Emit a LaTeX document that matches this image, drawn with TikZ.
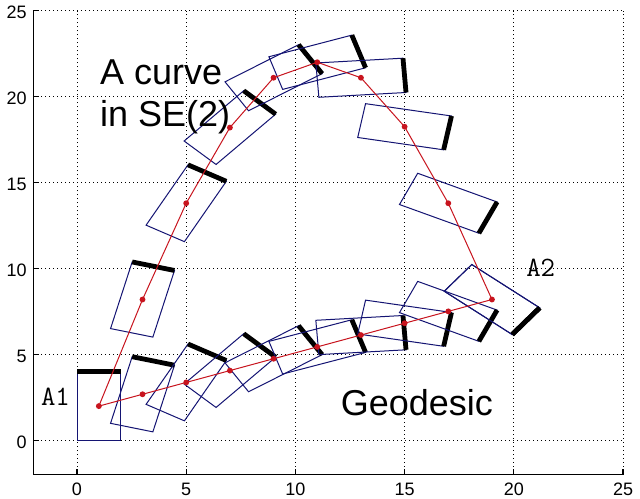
\documentclass[tikz,border=0pt]{standalone}
\usepackage{fontspec}
\setmainfont{Liberation Sans}
\definecolor{boxblue}{RGB}{20,20,115}
\definecolor{curvered}{RGB}{200,20,30}
\tikzset{
  gridline/.style={black, line width=0.7pt, dash pattern=on 0.75pt off 2.25pt},
  axisline/.style={black, line width=0.8pt},
  boxline/.style={boxblue, line width=0.75pt, line join=miter},
  thickedge/.style={black, line width=3.6pt},
  redline/.style={curvered, line width=0.75pt},
  ticklabel/.style={inner sep=0pt, font=\fontsize{13.5}{14}\selectfont},
  bigtext/.style={inner sep=0pt, anchor=base west, font=\fontsize{27}{31}\selectfont},
  posetext/.style={inner sep=0pt, anchor=base west, font=\ttfamily\fontsize{21}{22}\selectfont}
}
\newcommand{\pose}[4]{%
  \pgfmathsetmacro{\poseC}{cos(#4)}%
  \pgfmathsetmacro{\poseS}{sin(#4)}%
  \pgfmathsetmacro{\pAx}{#2-(\poseC)+2*(\poseS)}%
  \pgfmathsetmacro{\pAy}{#3-(\poseS)-2*(\poseC)}%
  \pgfmathsetmacro{\pBx}{#2+(\poseC)+2*(\poseS)}%
  \pgfmathsetmacro{\pBy}{#3+(\poseS)-2*(\poseC)}%
  \pgfmathsetmacro{\pCx}{#2+(\poseC)-2*(\poseS)}%
  \pgfmathsetmacro{\pCy}{#3+(\poseS)+2*(\poseC)}%
  \pgfmathsetmacro{\pDx}{#2-(\poseC)-2*(\poseS)}%
  \pgfmathsetmacro{\pDy}{#3-(\poseS)+2*(\poseC)}%
  \coordinate (#1) at (#2,#3);
  \draw[boxline] (\pAx,\pAy) -- (\pBx,\pBy) -- (\pCx,\pCy) -- (\pDx,\pDy) -- cycle;
  \draw[thickedge] (\pDx,\pDy) -- (\pCx,\pCy);
}
\begin{document}
\begin{tikzpicture}[x=16.3875pt,y=12.9pt]
\useasboundingbox[fill=white] (-3.5256,-3.3895) rectangle (25.778,25.622);
% grid
\foreach \v in {0,5,...,25}{
  \draw[gridline] (\v,-2) -- (\v,25);
  \draw[gridline] (-2,\v) -- (25,\v);
}
% axes
\coordinate (o) at (-2,-2);
\coordinate (xe) at (25,-2);
\coordinate (ye) at (-2,25);
\draw[axisline] (ye) -- (o) -- (xe);
\foreach \v in {0,5,...,25}{
  \draw[axisline] (\v,-2) -- (\v,-1.65);
  \node[ticklabel, anchor=north] (xt\v) at (\v,-2.45) {\v};
  \draw[axisline] (-2,\v) -- (-1.725,\v);
  \node[ticklabel, anchor=east] (yt\v) at (-2.29,\v-0.12) {\v};
}
% curve in SE(2)
\pose{c0}{1}{2}{0}
\pose{c1}{3}{8.2}{-129/9}
\pose{c2}{5}{13.8}{-2*129/9}
\pose{c3}{7}{18.2}{-3*129/9}
\pose{c4}{9}{21.1}{-4*129/9}
\pose{c5}{11}{22}{-5*129/9}
\pose{c6}{13}{21.1}{-6*129/9}
\pose{c7}{15}{18.25}{-7*129/9}
\pose{c8}{17}{13.8}{-8*129/9}
\pose{c9}{19}{8.2}{-129}
% geodesic
\foreach \k in {0,...,9}{
  \pgfmathsetmacro{\gx}{1+2*\k}
  \pgfmathsetmacro{\gy}{2+\k*6.2/9}
  \pgfmathsetmacro{\gt}{-\k*129/9}
  \pose{g\k}{\gx}{\gy}{\gt}
}
% red paths
\draw[redline] (c0) -- (c1) -- (c2) -- (c3) -- (c4) -- (c5) -- (c6) -- (c7) -- (c8) -- (c9);
\draw[redline] (g0) -- (g1) -- (g2) -- (g3) -- (g4) -- (g5) -- (g6) -- (g7) -- (g8) -- (g9);
\foreach \n in {c0,c1,c2,c3,c4,c5,c6,c7,c8,c9,g1,g2,g3,g4,g5,g6,g7,g8}{
  \fill[curvered] (\n) circle (2.2pt);
}
% labels
\node[bigtext] (t1) at (1.05,20.68) {A curve};
\node[bigtext] (t2) at (1.05,18.24) {in SE(2)};
\node[bigtext] (t3) at (12.07,1.45) {Geodesic};
\node[posetext] (a1) at (-1.66,2.02) {A1};
\node[posetext] (a2) at (20.56,9.52) {A2};
\end{tikzpicture}
\end{document}
